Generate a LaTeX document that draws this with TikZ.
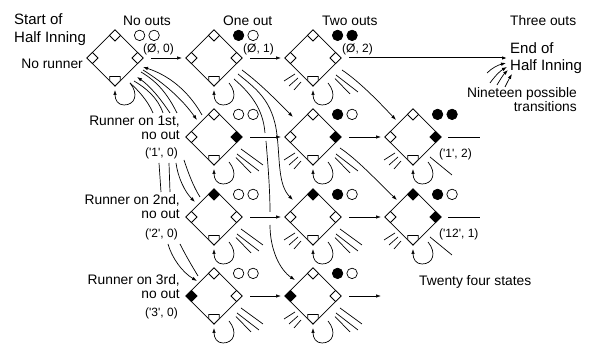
\documentclass[tikz,border=0pt]{standalone}
\usepackage{fontspec}
\setmainfont{Liberation Sans}
\usetikzlibrary{arrows.meta,shapes.geometric}
\tikzset{
  fieldbox/.style={draw,shape=diamond,aspect=1,inner sep=0pt,minimum width=56.5pt,minimum height=56.5pt,line width=.75pt},
  bagbox/.style={draw,shape=diamond,aspect=1,inner sep=0pt,minimum width=11.5pt,minimum height=11.5pt,line width=.75pt,fill=white},
  conn/.style={line width=.7pt},
  arr/.style={conn,-{Latex[length=5pt,width=3.5pt]}},
  outmark/.style={draw,circle,inner sep=0pt,minimum size=10.5pt,line width=.7pt},
  bigtext/.style={inner sep=0pt,font=\fontsize{15}{15}\selectfont},
  midtext/.style={inner sep=0pt,font=\fontsize{13.8}{14}\selectfont},
  smalltext/.style={inner sep=0pt,font=\fontsize{12}{12}\selectfont},
}
% name, x, y, fill of 2nd, 1st, 3rd base, fill of first and second out marker
\newcommand{\field}[8]{%
  \node[fieldbox] (#1) at (#2,#3) {};
  \node[bagbox,fill=#4] (#1n) at ([yshift=22.6pt]#1.center) {};
  \node[bagbox,fill=#5] (#1e) at ([xshift=22.6pt]#1.center) {};
  \node[bagbox,fill=#6] (#1w) at ([xshift=-22.6pt]#1.center) {};
  \draw[line width=.75pt,fill=white,shift={(#1.center)}] (-5.2,18.6) -- (5.2,18.6) -- (5.2,22.6) -- (0,28) -- (-5.2,22.6) -- cycle;
  \node[outmark,fill=#7] (#1a) at ([shift={(24.6,-22.6)}]#1.center) {};
  \node[outmark,fill=#8] (#1b) at ([shift={(39.1,-22.6)}]#1.center) {};
}
\newcommand{\selfloop}[1]{%
  \draw[arr,shift={(#1.center)}] (15,25) .. controls (24,36) and (20,47) .. (9,47) .. controls (3,47) and (0,42) .. (0,32);
}
\newcommand{\rticks}[1]{%
  \draw[conn,shift={(#1.center)}] (23,17) -- (45,34) (22,20.5) -- (37,36);
}
\newcommand{\rlong}[1]{%
  \draw[conn,shift={(#1.center)}] (27,12) -- (49,28);
}
\newcommand{\lticks}[1]{%
  \draw[conn,shift={(#1.center)}] (-18,16) -- (-29,23) (-15,20) -- (-24,28) (-12,24) -- (-19,32);
}
\newcommand{\cnx}[7][conn]{%
  \draw[#1] ([shift={(#3)}]#2.center) .. controls (#4) and (#5) .. ([shift={(#7)}]#6.center);
}
\newcommand{\stub}[5][conn]{%
  \draw[#1] ([shift={(#3)}]#2.center) -- ([shift={(#5)}]#4.center);
}
\begin{document}
\begin{tikzpicture}[x=1pt,y=-1pt]
\useasboundingbox (0,0) rectangle (590,344);
% fields
\field{d11}{115}{58}{white}{white}{white}{white}{white}
\field{d12}{214}{58}{white}{white}{white}{black}{white}
\field{d13}{313}{58}{white}{white}{white}{black}{black}
\field{d22}{214}{137}{white}{black}{white}{white}{white}
\field{d23}{313}{137}{white}{black}{white}{black}{white}
\field{d24}{413}{137}{white}{black}{white}{black}{black}
\field{d32}{214}{217}{black}{white}{white}{white}{white}
\field{d33}{313}{217}{black}{white}{white}{black}{white}
\field{d34}{413}{217}{black}{black}{white}{black}{white}
\field{d42}{214}{296}{white}{white}{black}{white}{white}
\field{d43}{313}{296}{white}{white}{black}{black}{white}
% labels
\node[bigtext,anchor=base west] (t1) at (14,25) {Start of};
\node[bigtext,anchor=base west] (t2) at (14,43) {Half Inning};
\node[midtext,anchor=base east] (t3) at (83,69) {No runner};
\node[midtext,anchor=base west] (t4) at (123,26) {No outs};
\node[midtext,anchor=base west] (t5) at (223,26) {One out};
\node[midtext,anchor=base west] (t6) at (322,26) {Two outs};
\node[midtext,anchor=base west] (t7) at (510,26) {Three outs};
\node[bigtext,anchor=base west] (endof) at (510,54) {End of};
\node[bigtext,anchor=base west] (endhalf) at (510,71) {Half Inning};
\node[midtext,anchor=base east] (t8) at (577,98) {Nineteen possible};
\node[midtext,anchor=base east] (t9) at (577,112) {transitions};
\node[midtext,anchor=base west] (t10) at (419,286) {Twenty four states};
\node[midtext,anchor=base east] (r1a) at (180,126) {Runner on 1st,};
\node[midtext,anchor=base east] (r1b) at (180,140) {no out};
\node[smalltext,anchor=base east] (r1c) at (178,157) {(\textquotesingle 1\textquotesingle, 0)};
\node[midtext,anchor=base east] (r2a) at (180,205) {Runner on 2nd,};
\node[midtext,anchor=base east] (r2b) at (180,219) {no out};
\node[smalltext,anchor=base east] (r2c) at (178,238) {(\textquotesingle 2\textquotesingle, 0)};
\node[midtext,anchor=base east] (r3a) at (180,285) {Runner on 3rd,};
\node[midtext,anchor=base east] (r3b) at (180,299) {no out};
\node[smalltext,anchor=base east] (r3c) at (178,317) {(\textquotesingle 3\textquotesingle, 0)};
\node[smalltext,anchor=base west] (s1) at (143,53) {(Ø, 0)};
\node[smalltext,anchor=base west] (s2) at (243,53) {(Ø, 1)};
\node[smalltext,anchor=base west] (s3) at (342,53) {(Ø, 2)};
\node[smalltext,anchor=base west] (s4) at (439,158) {(\textquotesingle 1\textquotesingle, 2)};
\node[smalltext,anchor=base west] (s5) at (439,238) {(\textquotesingle 12\textquotesingle, 1)};
% horizontal transitions
\stub[arr]{d11}{36,0}{d12}{-32,0}
\stub[arr]{d12}{36,0}{d13}{-32,0}
\draw[arr,line width=1pt] ([xshift=36pt]d13.center) -- ([shift={(-3,4)}]endof.base west);
\stub[arr]{d22}{36,0}{d23}{-32,0}
\stub[arr]{d23}{36,0}{d24}{-32,0}
\stub[arr]{d32}{36,0}{d33}{-32,0}
\stub[arr]{d33}{36,0}{d34}{-32,0}
\stub[arr]{d42}{36,0}{d43}{-32,0}
\stub[arr]{d43}{36,0}{d43}{68,0}
\stub{d24}{35,0}{d24}{67,0}
\stub{d34}{35,0}{d34}{67,0}
% self loops
\selfloop{d11}\selfloop{d12}\selfloop{d13}
\selfloop{d22}\selfloop{d23}\selfloop{d24}
\selfloop{d32}\selfloop{d33}\selfloop{d34}
\selfloop{d42}\selfloop{d43}
% short ticks
\rticks{d13}\rticks{d22}\rticks{d23}\rticks{d32}\rticks{d33}\rticks{d42}\rticks{d43}
\rlong{d22}\rlong{d32}\rlong{d33}\rlong{d42}\rlong{d43}
\lticks{d13}\lticks{d23}\lticks{d24}\lticks{d33}\lticks{d34}\lticks{d43}
\stub{d24}{17,20}{d24}{39,38}
\stub{d34}{17,20}{d34}{39,38}
% curves around the first field
\cnx[arr]{d22}{-12,-22}{188.7,91.3}{169,75.3}{d11}{28,9}
\cnx[arr]{d11}{28,12}{164,83}{182,99}{d22}{-17,-17}
\cnx{d11}{26,14}{158,82}{168,95}{d22}{-37,-24}
\cnx[arr]{d22}{-44,-24}{160,98}{150,86}{d11}{22,19}
\cnx{d11}{19,23}{146,88}{158,98}{d22}{-51,-24}
\cnx{d11}{15,25}{138,90}{148,101}{d22}{-61,-24}
% continuing below the first row of labels
\stub{d32}{-55,-54}{d32}{-53,-25}
\stub{d32}{-45,-54}{d32}{-44,-25}
\cnx[arr]{d32}{-38,-54}{178,178}{185,192}{d32}{-19,-15}
\cnx{d32}{-30,-57}{188,172}{193,186}{d32}{-14,-20}
\cnx[arr]{d42}{-46,-52}{172,258}{182,272}{d42}{-17,-15}
\cnx{d42}{-34,-52}{186,256}{192,266}{d42}{-16,-20}
% curves from the second field
\cnx[arr]{d12}{28,12}{262,85}{278,102}{d23}{-20,-20}
\draw[conn] ([shift={(24,16)}]d12.center) .. controls (255,88) and (273,100) .. (277,135);
\draw[arr] (277,135) .. controls (280,160) and (278,185) .. ([shift={(-20,-17)}]d33.center);
\draw[conn] ([shift={(20,21)}]d12.center) .. controls (250,93) and (263,108) .. (265,133);
\draw[conn] (266,141) .. controls (268,165) and (270,190) .. (270,212);
\draw[arr] (270,225) .. controls (270,250) and (280,270) .. ([shift={(-18,-16)}]d43.center);
% curves from the third column
\cnx[arr]{d13}{29,12}{360,82}{380,103}{d24}{-17,-17}
\cnx[arr]{d23}{27,11}{358,160}{378,182}{d34}{-16,-17}
% into the end state
\draw[arr] (487,73) .. controls (492,68) and (498,65) .. ([shift={(-4,9)}]endof.base west);
\draw[arr] (490,83) .. controls (495,76) and (500,71) .. ([shift={(-3,13)}]endof.base west);
\draw[arr] (497,85) .. controls (500,80) and (503,75) .. ([shift={(-2,16)}]endof.base west);
\draw[arr] (505,87) .. controls (507,83) and (509,79) .. ([shift={(2,20)}]endof.base west);
\end{tikzpicture}
\end{document}
